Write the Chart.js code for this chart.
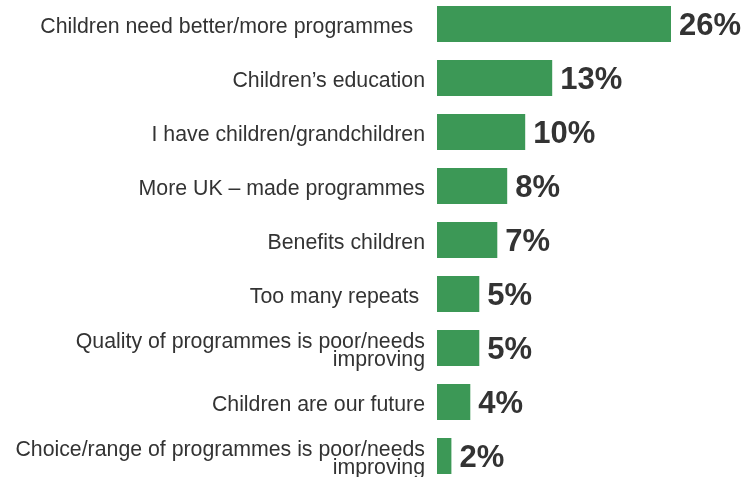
<!DOCTYPE html>
<html>
<head>
<meta charset="utf-8">
<script src="https://cdn.jsdelivr.net/npm/chart.js@4.4.0/dist/chart.umd.min.js"></script>
<style>
  html, body { margin: 0; padding: 0; background: #fff; overflow: hidden; }
  #wrap { position: absolute; left: 0; top: -3px; width: 745px; height: 486px; }
</style>
</head>
<body>
<div id="wrap"><canvas id="chart"></canvas></div>
<script>
const categories = [
  'Children need better/more programmes  ',
  'Children\u2019s education',
  'I have children/grandchildren',
  'More UK \u2013 made programmes',
  'Benefits children',
  'Too many repeats ',
  ['Quality of programmes is poor/needs', 'improving'],
  'Children are our future',
  ['Choice/range of programmes is poor/needs', 'improving']
];
const values = [26, 12.8, 9.8, 7.8, 6.7, 4.7, 4.7, 3.7, 1.6];
const valueLabels = ['26%', '13%', '10%', '8%', '7%', '5%', '5%', '4%', '2%'];

const textColor = '#333333';
const barColor = '#3c9856';

// draws the bold percentage next to each bar
const valueLabelPlugin = {
  id: 'valueLabels',
  afterDatasetsDraw(chart) {
    const ctx = chart.ctx;
    const meta = chart.getDatasetMeta(0);
    ctx.save();
    ctx.font = 'bold 31px "Liberation Sans", Arial, sans-serif';
    ctx.fillStyle = textColor;
    ctx.textAlign = 'left';
    ctx.textBaseline = 'middle';
    meta.data.forEach((bar, i) => {
      ctx.fillText(valueLabels[i], bar.x + 8, bar.y + 2);
    });
    ctx.restore();
  }
};

new Chart(document.getElementById('chart'), {
  type: 'bar',
  data: {
    labels: categories,
    datasets: [{
      data: values,
      backgroundColor: barColor,
      borderWidth: 0,
      barPercentage: 0.667,
      categoryPercentage: 1
    }]
  },
  options: {
    indexAxis: 'y',
    responsive: true,
    maintainAspectRatio: false,
    animation: false,
    layout: { padding: { left: 0, right: 38, top: 0, bottom: 0 } },
    plugins: {
      legend: { display: false },
      tooltip: { enabled: false }
    },
    scales: {
      x: {
        display: false,
        min: 0,
        max: 30
      },
      y: {
        grid: { display: false },
        border: { display: false },
        afterFit(scale) {
          scale.width = 437;
          // no extra room above/below for the tick labels
          scale.paddingTop = 0;
          scale.paddingBottom = 0;
        },
        ticks: {
          color: textColor,
          padding: 4,
          labelOffset: 3,
          font: { family: '"Liberation Sans", Arial, sans-serif', size: 21.3, lineHeight: 0.83 }
        }
      }
    }
  },
  plugins: [valueLabelPlugin]
});
</script>
</body>
</html>
